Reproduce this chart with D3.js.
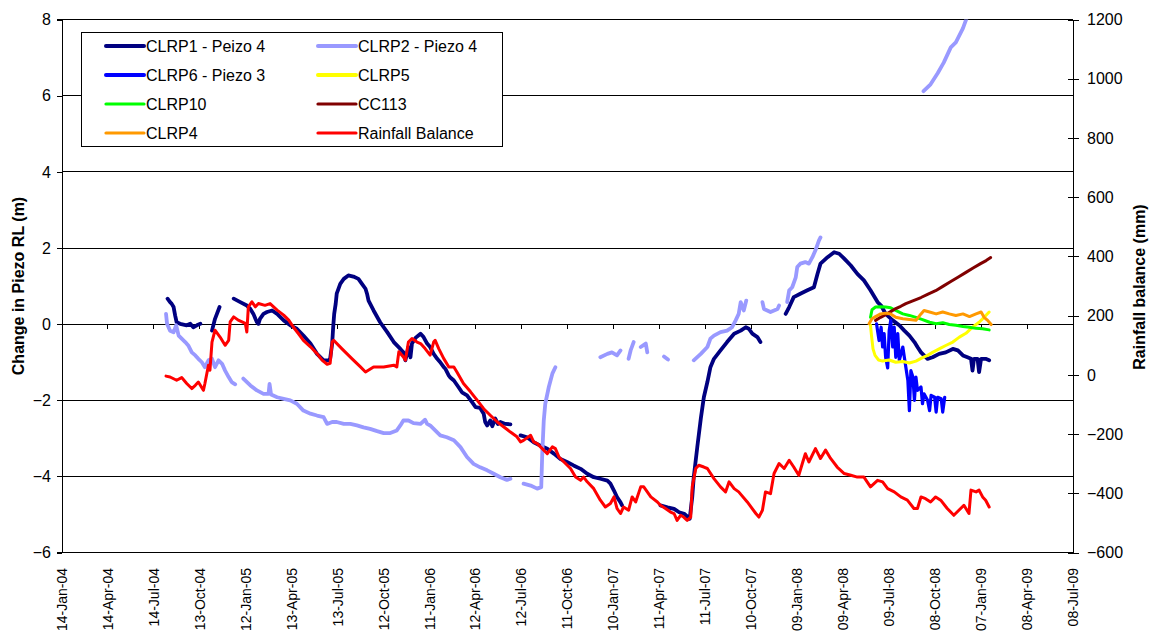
<!DOCTYPE html>
<html><head><meta charset="utf-8">
<script src="https://cdn.jsdelivr.net/npm/d3@7"></script>
<style>
body{margin:0;background:#fff}
text{font-family:"Liberation Sans",Arial,sans-serif;fill:#000}
</style>
</head><body>
<svg id="chart" width="1152" height="636"></svg>
<script>
// ---------- DATA (dates are Excel serial day numbers) ----------
const xTickLabels = ["14-Jan-04","14-Apr-04","14-Jul-04","13-Oct-04","12-Jan-05","13-Apr-05","13-Jul-05","12-Oct-05","11-Jan-06","12-Apr-06","12-Jul-06","11-Oct-06","10-Jan-07","11-Apr-07","11-Jul-07","10-Oct-07","09-Jan-08","09-Apr-08","09-Jul-08","08-Oct-08","07-Jan-09","08-Apr-09","08-Jul-09"];
const leftTicks = [-6,-4,-2,0,2,4,6,8];
const rightTicks = [-600,-400,-200,0,200,400,600,800,1000,1200];

const clrp1 = [
[38209,0.67],[38214,0.58],[38217,0.54],[38221,0.45],[38224,0.23],[38227,0.05],[38234,0.01],[38247,-0.03],[38254,0.01],[38260,-0.08],[38267,-0.03],[38274,0.01],null,
[38297,-0.17],[38303,0.14],[38312,0.45],null,
[38340,0.67],[38353,0.58],[38366,0.49],[38373,0.40],[38379,0.27],[38383,0.14],[38386,0.05],[38389,0.01],[38392,0.14],[38399,0.27],[38406,0.32],[38416,0.36],[38426,0.27],[38439,0.10],[38452,-0.03],[38465,-0.12],[38478,-0.30],[38492,-0.51],[38505,-0.78],[38518,-0.95],[38528,-0.95],[38531,-0.91],[38535,-0.51],[38537,-0.08],[38539,0.27],[38542,0.54],[38544,0.80],[38551,1.06],[38558,1.19],[38567,1.28],[38577,1.25],[38587,1.19],[38594,1.06],[38601,0.93],[38604,0.80],[38607,0.62],[38617,0.36],[38630,0.05],[38644,-0.21],[38657,-0.47],[38670,-0.65],[38676,-0.74],[38680,-0.95],[38683,-0.78],[38686,-0.60],[38690,-0.87],[38693,-0.51],[38700,-0.36],[38710,-0.25],[38716,-0.34],[38723,-0.51],[38729,-0.60],[38736,-0.78],[38743,-0.91],[38749,-1.00],[38756,-1.13],[38759,-1.17],[38766,-1.35],[38769,-1.40],[38776,-1.48],[38785,-1.65],[38792,-1.79],[38802,-1.87],[38812,-2.05],[38819,-2.18],[38828,-2.20],[38835,-2.35],[38838,-2.57],[38842,-2.66],[38848,-2.53],[38852,-2.68],[38858,-2.48],[38863,-2.62],[38868,-2.57],[38878,-2.62],[38888,-2.63],null,
[38908,-2.92],[38921,-2.97],[38934,-3.10],[38947,-3.19],[38961,-3.27],[38974,-3.40],[38987,-3.54],[39000,-3.62],[39013,-3.71],[39027,-3.80],[39040,-3.93],[39053,-4.02],[39066,-4.06],[39080,-4.11],[39086,-4.19],[39093,-4.37],[39099,-4.54],[39106,-4.68],[39109,-4.76],null,
[39185,-4.76],[39199,-4.81],[39212,-4.85],[39222,-4.94],[39232,-4.98],[39243,-5.11],[39248,-4.54],[39251,-4.02],[39258,-3.23],[39265,-2.48],[39271,-1.92],[39278,-1.52],[39284,-1.13],[39291,-0.91],[39304,-0.69],[39317,-0.47],[39331,-0.25],[39344,-0.17],[39354,-0.08],[39360,-0.12],[39367,-0.25],[39377,-0.34],[39383,-0.47],null,
[39433,0.27],[39440,0.45],[39449,0.71],[39462,0.80],[39476,0.89],[39489,0.97],[39496,1.32],[39502,1.59],[39516,1.76],[39529,1.89],[39539,1.85],[39549,1.72],[39562,1.54],[39575,1.32],[39588,1.15],[39601,0.89],[39615,0.58],[39622,0.49],[39631,0.27],[39645,0.10],[39658,-0.03],[39668,-0.17],[39678,-0.30],[39688,-0.47],[39694,-0.60],[39701,-0.74],[39707,-0.82],[39714,-0.91],[39724,-0.87],[39737,-0.78],[39750,-0.74],[39764,-0.65],[39774,-0.69],[39784,-0.82],[39793,-0.87],[39800,-0.91],[39803,-1.22],[39806,-0.91],[39813,-0.91],[39816,-1.26],[39820,-0.91],[39829,-0.91],[39836,-0.95]
];

const clrp2 = [
[38206,0.27],[38208,0.01],[38214,-0.17],[38221,-0.21],[38226,-0.03],[38231,-0.30],[38237,-0.38],[38244,-0.47],[38250,-0.56],[38257,-0.74],[38264,-0.82],[38270,-0.91],[38277,-1.00],[38283,-1.13],[38290,-0.95],[38297,-0.91],[38303,-1.13],[38310,-0.95],[38317,-1.04],[38323,-1.22],[38330,-1.39],[38336,-1.52],[38343,-1.58],null,
[38359,-1.43],[38373,-1.61],[38386,-1.74],[38399,-1.83],[38409,-1.83],[38411,-1.57],[38414,-1.85],[38426,-1.92],[38439,-1.96],[38452,-2.00],[38465,-2.09],[38478,-2.27],[38492,-2.35],[38505,-2.40],[38518,-2.44],[38525,-2.62],[38535,-2.57],[38544,-2.57],[38558,-2.62],[38571,-2.62],[38584,-2.66],[38597,-2.71],[38610,-2.75],[38624,-2.81],[38637,-2.86],[38650,-2.86],[38663,-2.79],[38670,-2.66],[38676,-2.53],[38686,-2.53],[38696,-2.60],[38710,-2.62],[38719,-2.51],[38723,-2.62],[38729,-2.66],[38739,-2.79],[38749,-2.92],[38762,-2.97],[38776,-3.05],[38789,-3.23],[38802,-3.49],[38815,-3.67],[38828,-3.76],[38842,-3.84],[38855,-3.93],[38868,-4.02],[38881,-4.09],[38888,-4.06],null,
[38914,-4.19],[38928,-4.24],[38941,-4.32],[38949,-4.28],[38951,-3.40],[38954,-2.53],[38957,-2.09],[38964,-1.65],[38971,-1.30],[38977,-1.13],null,
[39066,-0.87],[39080,-0.78],[39089,-0.74],[39099,-0.82],[39106,-0.69],null,
[39122,-0.91],[39126,-0.69],[39132,-0.47],null,
[39146,-0.60],[39156,-0.51],[39159,-0.74],null,
[39192,-0.85],[39200,-0.93],null,
[39251,-0.95],[39265,-0.78],[39278,-0.60],[39284,-0.38],[39291,-0.30],[39304,-0.21],[39317,-0.17],[39327,-0.08],[39334,0.10],[39340,0.27],[39344,0.58],[39350,0.36],[39355,0.62],null,
[39387,0.58],[39390,0.40],[39403,0.32],[39417,0.40],[39420,0.49],null,
[39436,0.58],[39440,0.89],[39446,0.97],[39453,1.23],[39456,1.50],[39462,1.59],[39472,1.63],[39479,1.59],[39486,1.76],[39492,1.94],[39499,2.20],[39502,2.28],null,
[39706,6.12],[39720,6.30],[39734,6.59],[39746,6.87],[39760,7.27],[39770,7.40],[39784,7.77],[39792,8.06]
];

const clrp6 = [
[39613,0.01],[39615,-0.17],[39618,-0.43],[39622,-0.08],[39625,-0.60],[39628,-0.25],[39631,-0.87],[39635,-1.15],[39638,-0.17],[39641,0.10],[39645,-0.60],[39648,-0.08],[39651,-0.87],[39655,-0.25],[39658,-0.95],[39665,-0.60],[39671,-1.13],[39675,-1.48],[39678,-2.27],[39681,-1.22],[39685,-1.39],[39688,-2.00],[39691,-1.39],[39694,-1.74],[39701,-1.65],[39704,-2.09],[39707,-1.83],[39714,-2.00],[39718,-2.27],[39721,-1.87],[39728,-1.92],[39731,-2.31],[39734,-1.92],[39741,-1.96],[39744,-2.31],[39748,-1.92]
];

const clrp5 = [
[39601,-0.03],[39603,-0.30],[39606,-0.65],[39610,-0.82],[39617,-0.94],[39625,-0.97],[39638,-0.94],[39651,-1.00],[39665,-0.98],[39678,-1.02],[39691,-0.97],[39704,-0.88],[39714,-0.82],[39724,-0.74],[39737,-0.65],[39750,-0.56],[39764,-0.47],[39777,-0.34],[39790,-0.24],[39803,-0.08],[39816,0.05],[39826,0.18],[39836,0.32]
];

const clrp10 = [
[39601,0.18],[39604,0.38],[39611,0.45],[39621,0.46],[39631,0.45],[39641,0.43],[39651,0.36],[39665,0.27],[39678,0.23],[39691,0.18],[39704,0.12],[39718,0.05],[39731,0.01],[39744,0.04],[39757,-0.01],[39770,-0.03],[39784,-0.06],[39797,-0.08],[39810,-0.11],[39823,-0.12],[39836,-0.15]
];

const cc113 = [
[39611,0.10],[39621,0.18],[39631,0.25],[39641,0.33],[39651,0.41],[39661,0.47],[39671,0.54],[39686,0.62],[39701,0.70],[39715,0.79],[39730,0.88],[39745,1.00],[39760,1.12],[39775,1.24],[39790,1.36],[39805,1.48],[39819,1.59],[39830,1.67],[39839,1.75]
];

const clrp4 = [
[39598,0.01],[39604,0.14],[39611,0.20],[39621,0.27],[39631,0.29],[39641,0.27],[39651,0.18],[39665,0.14],[39678,0.12],[39691,0.10],[39701,0.27],[39707,0.36],[39718,0.32],[39731,0.27],[39744,0.32],[39757,0.27],[39770,0.23],[39784,0.27],[39797,0.20],[39810,0.27],[39820,0.32],[39826,0.18],[39833,0.10],[39840,-0.01]
];

const rainfall = [
[38206,-4],[38214,-7],[38227,-18],[38237,-9],[38247,-29],[38257,-46],[38264,-35],[38270,-24],[38280,-52],[38283,-29],[38290,33],[38293,16],[38297,111],[38303,151],[38313,128],[38323,100],[38330,117],[38333,179],[38340,196],[38349,185],[38363,174],[38366,145],[38369,230],[38376,247],[38383,230],[38389,241],[38402,235],[38412,241],[38426,219],[38439,202],[38449,185],[38458,162],[38468,140],[38478,117],[38492,95],[38505,72],[38515,50],[38525,36],[38531,39],[38535,111],[38538,117],[38554,89],[38564,72],[38574,55],[38591,27],[38601,10],[38617,27],[38637,27],[38657,33],[38663,27],[38667,78],[38676,61],[38680,50],[38686,111],[38693,123],[38703,111],[38710,106],[38719,89],[38729,67],[38736,111],[38739,117],[38746,89],[38756,55],[38766,27],[38776,27],[38782,10],[38795,-29],[38809,-57],[38822,-85],[38835,-114],[38848,-136],[38862,-159],[38875,-176],[38888,-193],[38901,-209],[38908,-226],[38914,-221],[38928,-204],[38934,-226],[38941,-232],[38951,-249],[38961,-266],[38971,-243],[38977,-249],[38984,-277],[38994,-294],[39007,-316],[39017,-345],[39027,-356],[39033,-345],[39040,-361],[39053,-384],[39066,-423],[39076,-446],[39086,-434],[39093,-412],[39099,-451],[39106,-468],[39112,-446],[39122,-457],[39129,-412],[39136,-429],[39146,-378],[39152,-378],[39166,-412],[39179,-429],[39185,-440],[39195,-451],[39205,-463],[39212,-468],[39218,-491],[39225,-474],[39231,-480],[39238,-491],[39245,-480],[39248,-378],[39255,-316],[39261,-305],[39271,-311],[39278,-316],[39291,-350],[39304,-378],[39314,-395],[39321,-361],[39331,-384],[39340,-395],[39357,-429],[39374,-468],[39380,-480],[39387,-457],[39393,-395],[39403,-401],[39410,-333],[39420,-299],[39430,-316],[39440,-288],[39449,-311],[39459,-339],[39466,-299],[39472,-266],[39479,-294],[39492,-249],[39502,-282],[39512,-254],[39522,-282],[39535,-311],[39549,-333],[39562,-339],[39575,-345],[39588,-345],[39601,-378],[39615,-356],[39625,-361],[39635,-384],[39648,-395],[39661,-412],[39674,-423],[39687,-451],[39694,-451],[39701,-412],[39710,-418],[39720,-429],[39730,-412],[39740,-423],[39753,-451],[39766,-474],[39776,-457],[39786,-440],[39796,-468],[39800,-389],[39810,-395],[39816,-389],[39823,-412],[39829,-423],[39836,-446]
];

const seriesNames = ["CLRP1 - Peizo 4","CLRP2 - Piezo 4","CLRP6 - Piezo 3","CLRP5","CLRP10","CC113","CLRP4","Rainfall Balance"];
const seriesColors = ["#000080","#9999FF","#0000FF","#FFFF00","#00FF00","#800000","#FF9900","#FF0000"];
const seriesData = [clrp1, clrp2, clrp6, clrp5, clrp10, cc113, clrp4, rainfall];
const seriesAxis = ["left","left","left","left","left","left","left","right"];
const seriesWidths = [3.8, 3.8, 3.2, 3, 3, 3, 3, 3];

// ---------- CHART ----------
const svg = d3.select("#chart");
const M = {left: 62, right: 1073, top: 19.6, bottom: 552.6};
const parseTick = d3.utcParse("%d-%b-%y");
const tickDates = xTickLabels.map(parseTick);
const serialToDate = s => new Date(Date.UTC(1899, 11, 30) + s * 86400000);

const x = d3.scaleUtc().domain([tickDates[0], tickDates[tickDates.length-1]]).range([M.left, M.right]);
const yL = d3.scaleLinear().domain([-6, 8]).range([M.bottom, M.top]);
const yR = d3.scaleLinear().domain([-600, 1200]).range([M.bottom, M.top]);

svg.append("rect").attr("width",1152).attr("height",636).attr("fill","#fff");

// gridlines
svg.append("g").selectAll("line").data(leftTicks).join("line")
  .attr("x1", M.left).attr("x2", M.right)
  .attr("y1", d => yL(d)).attr("y2", d => yL(d))
  .attr("stroke", "#000").attr("stroke-width", 1).attr("shape-rendering","crispEdges");

// left axis
const gL = svg.append("g").attr("transform", `translate(${M.left},0)`)
  .call(d3.axisLeft(yL).tickValues(leftTicks).tickSize(5).tickPadding(6).tickFormat(d3.format("d")));
gL.selectAll("text").style("font-size","16px").attr("fill","#000");
gL.selectAll("line,path").attr("stroke","#000").attr("shape-rendering","crispEdges");
gL.select(".domain").attr("d", `M-5,${M.top}H0V${M.bottom}H-5`);

// right axis
const gR = svg.append("g").attr("transform", `translate(${M.right},0)`)
  .call(d3.axisRight(yR).tickValues(rightTicks).tickSize(6).tickPadding(8).tickFormat(d3.format("d")));
gR.selectAll("text").style("font-size","16px").attr("fill","#000");
gR.selectAll(".tick line").attr("x1",-5).attr("x2",6);
gR.selectAll("line,path").attr("stroke","#000").attr("shape-rendering","crispEdges");
gR.select(".domain").attr("d", `M0,${M.top}V${M.bottom}`);

// x axis (crosses at 0, labels low)
const gX = svg.append("g");
gX.selectAll("line").data(tickDates).join("line")
  .attr("x1", d => x(d)).attr("x2", d => x(d))
  .attr("y1", yL(0)).attr("y2", yL(0) + 5)
  .attr("stroke", "#000").attr("shape-rendering","crispEdges");
gX.selectAll("text").data(tickDates).join("text")
  .attr("transform", (d) => `translate(${x(d)},568) rotate(-90)`)
  .attr("text-anchor","end").attr("dy","0.35em")
  .style("font-size","14px")
  .text((d,i) => xTickLabels[i]);

// axis titles
svg.append("text").attr("transform","translate(18,286) rotate(-90)")
  .attr("text-anchor","middle").attr("dy","0.35em")
  .style("font-size","16px").style("font-weight","bold")
  .text("Change in Piezo RL (m)");
svg.append("text").attr("transform","translate(1139,287) rotate(-90)")
  .attr("text-anchor","middle").attr("dy","0.35em")
  .style("font-size","16px").style("font-weight","bold")
  .text("Rainfall balance (mm)");

// series
svg.append("clipPath").attr("id","plotclip").append("rect")
  .attr("x", M.left).attr("y", M.top).attr("width", M.right - M.left).attr("height", M.bottom - M.top);
const gS = svg.append("g").attr("clip-path","url(#plotclip)");
seriesData.forEach((data, i) => {
  const ys = seriesAxis[i] === "right" ? yR : yL;
  const line = d3.line().defined(d => d !== null)
    .x(d => x(serialToDate(d[0]))).y(d => ys(d[1]));
  gS.append("path").datum(data).attr("d", line)
    .attr("fill","none").attr("stroke", seriesColors[i])
    .attr("stroke-width", seriesWidths[i])
    .attr("stroke-linejoin","round").attr("stroke-linecap","round");
});

// legend
const gLeg = svg.append("g");
gLeg.append("rect").attr("x",81.5).attr("y",32.5).attr("width",421).attr("height",114)
  .attr("fill","#fff").attr("stroke","#000").attr("stroke-width",1);
seriesNames.forEach((name, i) => {
  const col = i % 2, row = Math.floor(i / 2);
  const lx = col === 0 ? 106 : 318;
  const ly = 46 + row * 29;
  gLeg.append("line").attr("x1", lx).attr("x2", lx + 38).attr("y1", ly).attr("y2", ly)
    .attr("stroke", seriesColors[i]).attr("stroke-width", i < 4 ? 4 : 3.2).attr("stroke-linecap","round");
  gLeg.append("text").attr("x", lx + 40).attr("y", ly).attr("dy","0.35em")
    .style("font-size","16px").text(name);
});
</script>
</body></html>
